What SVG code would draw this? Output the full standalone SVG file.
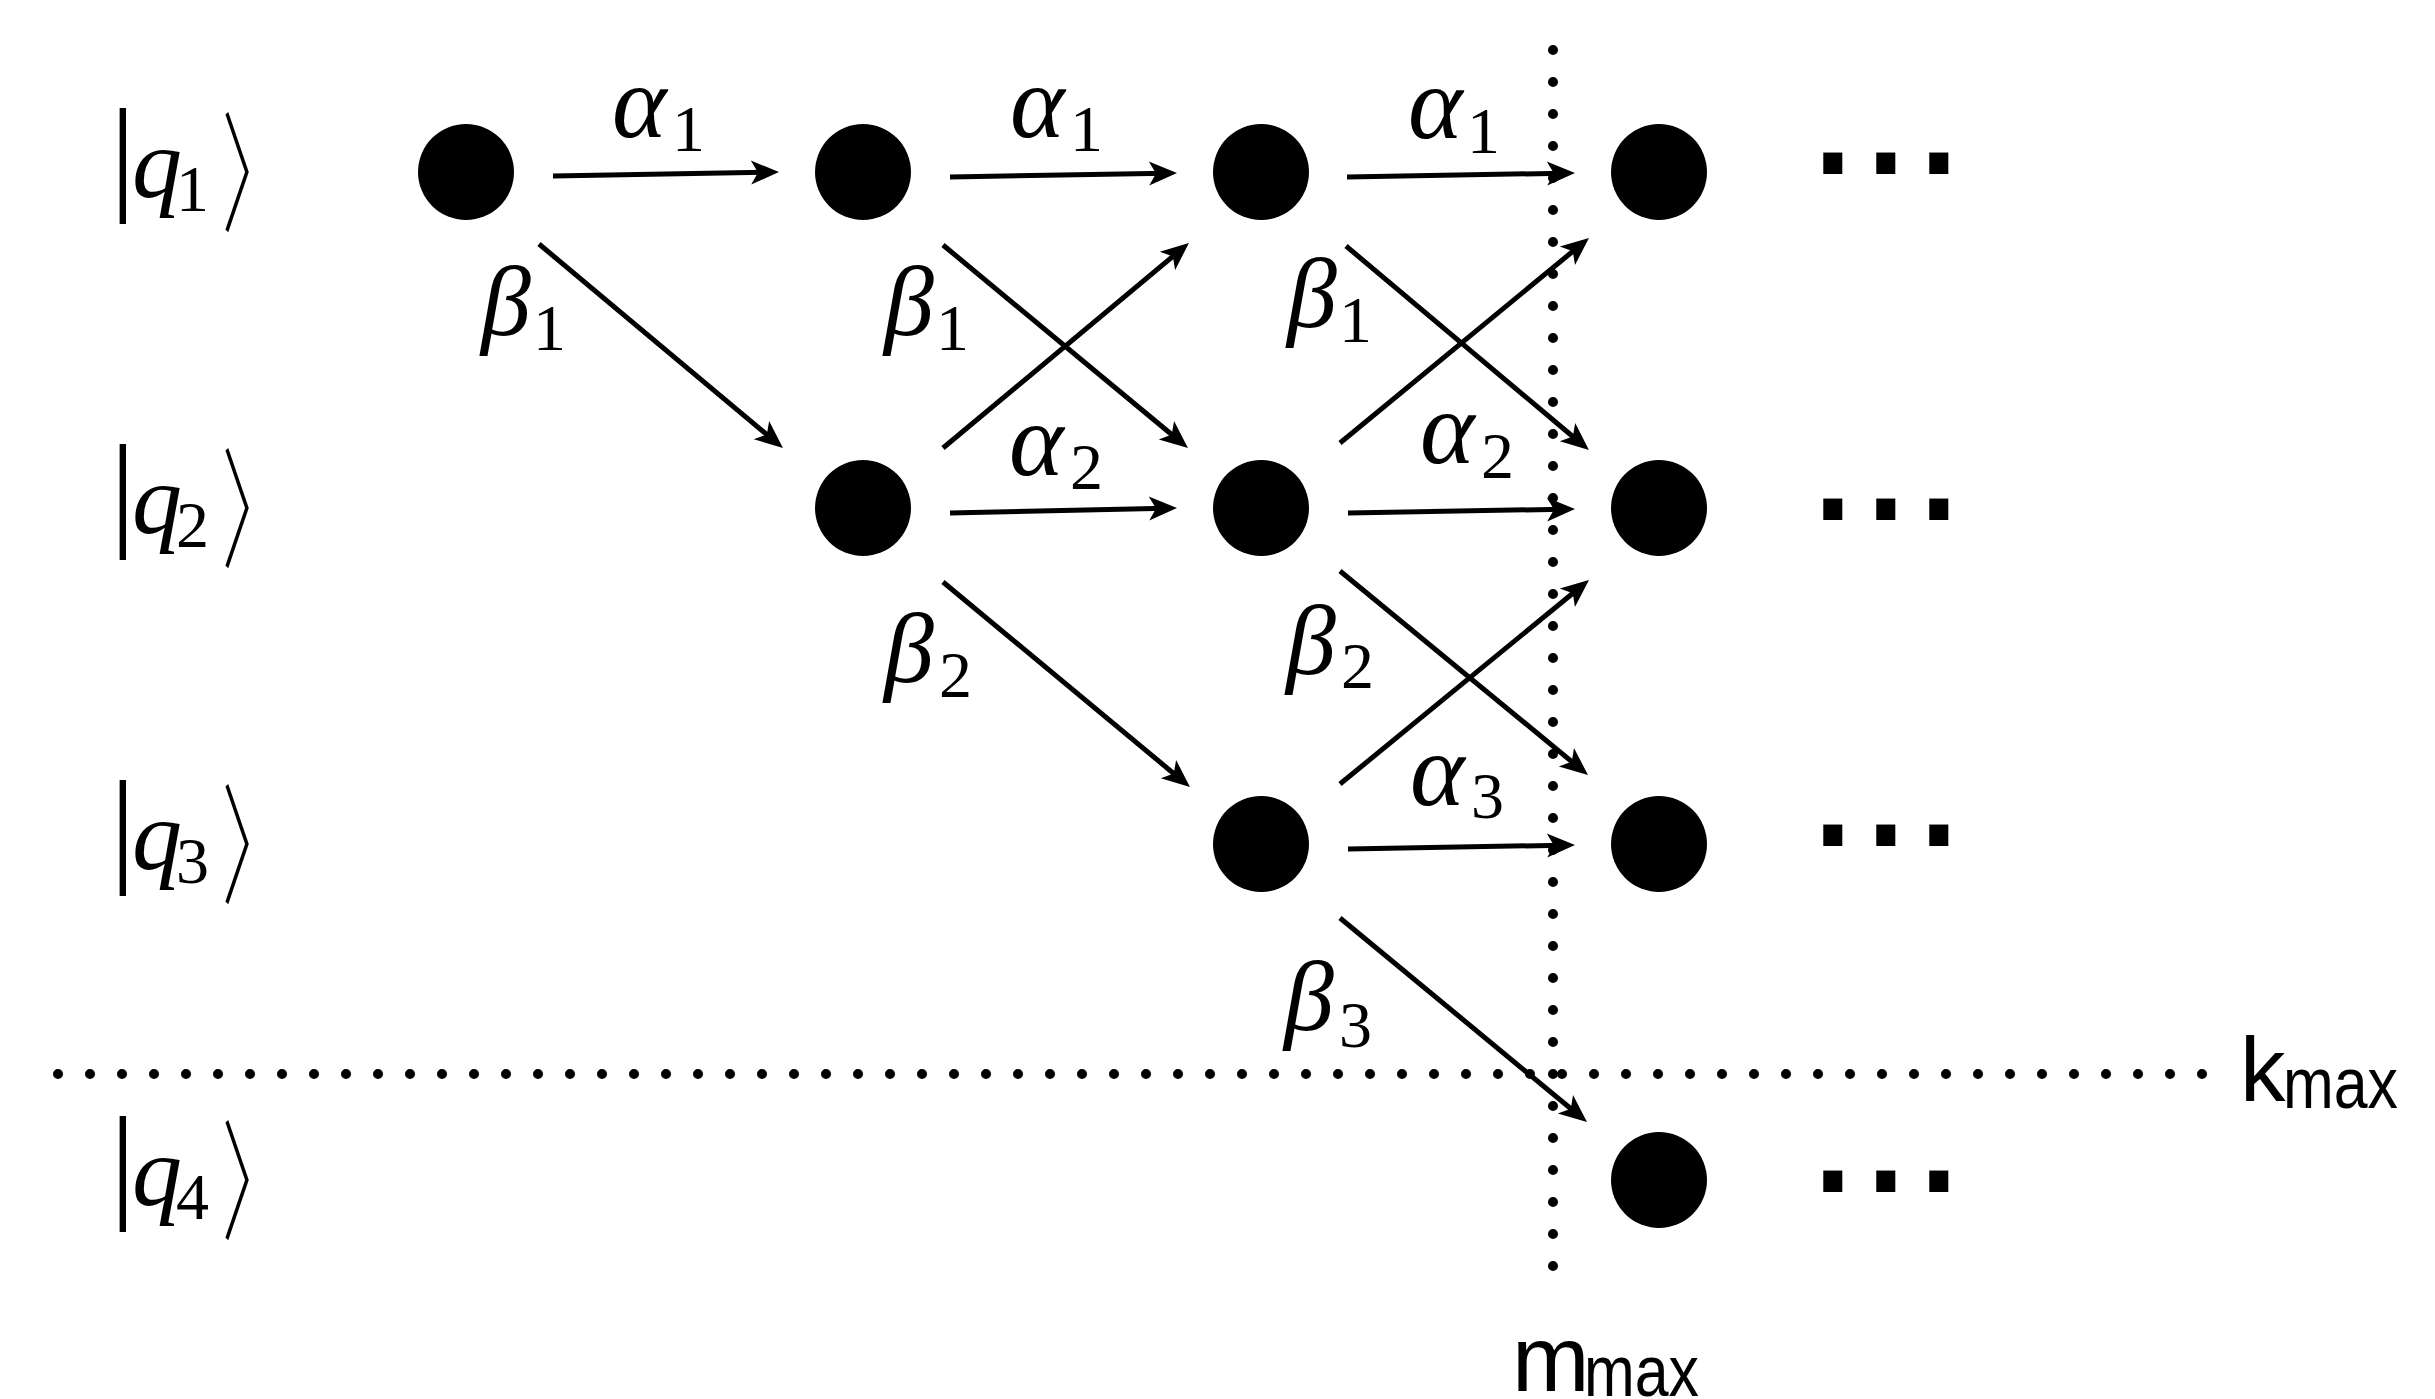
<svg xmlns="http://www.w3.org/2000/svg" width="2435" height="1399" viewBox="0 0 2435 1399">
<style>
.node{fill:#000}
.arr{stroke:#000;stroke-width:5;fill:none;marker-end:url(#ah)}
.dots{stroke:#000;stroke-width:10;stroke-dasharray:0 32;stroke-linecap:round;fill:none}
.math{font-family:"Liberation Serif","DejaVu Serif",serif;fill:#000}
.it{font-style:italic}
.br{font-family:"Noto Sans CJK JP","Noto Sans CJK SC","DejaVu Sans",sans-serif;font-weight:300;font-size:104px;fill:#000}
.sans{font-family:"Liberation Sans",Arial,sans-serif;fill:#000}
.ell{font-family:"Liberation Sans",Arial,sans-serif;font-size:200px;letter-spacing:-2.6px;fill:#000}
</style>
<defs>
<marker id="ah" markerUnits="userSpaceOnUse" viewBox="-20 -14 34 28" refX="0" refY="0" markerWidth="34" markerHeight="28" orient="auto">
<path d="M11,0 L-17,-12 L-10,0 L-17,12 Z" fill="#000"/>
</marker>
</defs>
<rect width="2435" height="1399" fill="#fff"/>

<g id="limits">
<line class="dots" x1="1553" y1="50" x2="1553" y2="1298"/>
<line class="dots" x1="58" y1="1074" x2="2234" y2="1074"/>
<text class="sans" x="2240" y="1101" font-size="91">k<tspan x="2283" y="1108" font-size="73" textLength="115" lengthAdjust="spacingAndGlyphs">max</tspan></text>
<text class="sans" x="1512" y="1391" font-size="93">m<tspan x="1584" y="1396" font-size="73" textLength="115" lengthAdjust="spacingAndGlyphs">max</tspan></text>
</g>

<g id="row-labels">
<g id="label-q1">
<text class="math" font-size="100"><tspan x="110" y="197" font-size="128">|</tspan><tspan class="it" x="132" y="197">q</tspan><tspan x="176" y="211" font-size="66">1</tspan></text>
<text class="br" transform="translate(222 220.5) scale(0.65 1.25)">〉</text>
</g>
<g id="label-q2">
<text class="math" font-size="100"><tspan x="110" y="533" font-size="128">|</tspan><tspan class="it" x="132" y="533">q</tspan><tspan x="176" y="547" font-size="66">2</tspan></text>
<text class="br" transform="translate(222 556.5) scale(0.65 1.25)">〉</text>
</g>
<g id="label-q3">
<text class="math" font-size="100"><tspan x="110" y="869" font-size="128">|</tspan><tspan class="it" x="132" y="869">q</tspan><tspan x="176" y="883" font-size="66">3</tspan></text>
<text class="br" transform="translate(222 892.5) scale(0.65 1.25)">〉</text>
</g>
<g id="label-q4">
<text class="math" font-size="100"><tspan x="110" y="1205" font-size="128">|</tspan><tspan class="it" x="132" y="1205">q</tspan><tspan x="176" y="1219" font-size="66">4</tspan></text>
<text class="br" transform="translate(222 1228.5) scale(0.65 1.25)">〉</text>
</g>
</g>

<g id="connectors">
<line class="arr" x1="553" y1="176" x2="768" y2="172.2"/>
<line class="arr" x1="950" y1="177" x2="1166" y2="173.2"/>
<line class="arr" x1="1347" y1="177" x2="1564" y2="173.2"/>
<line class="arr" x1="950" y1="513" x2="1166" y2="508.2"/>
<line class="arr" x1="1348" y1="513" x2="1564" y2="509.2"/>
<line class="arr" x1="1348" y1="849" x2="1564" y2="845.2"/>
<line class="arr" x1="539" y1="244" x2="774.5" y2="441"/>
<line class="arr" x1="943" y1="245" x2="1179.5" y2="441"/>
<line class="arr" x1="1346" y1="246" x2="1580.5" y2="443"/>
<line class="arr" x1="943" y1="582" x2="1181.5" y2="780"/>
<line class="arr" x1="1340" y1="571" x2="1579.5" y2="768"/>
<line class="arr" x1="1340" y1="918" x2="1578.5" y2="1115"/>
<line class="arr" x1="943" y1="448" x2="1180.5" y2="250"/>
<line class="arr" x1="1340" y1="443" x2="1580.5" y2="245"/>
<line class="arr" x1="1340" y1="784" x2="1580.5" y2="587"/>
</g>

<g id="edge-labels" class="math" font-size="104">
<text><tspan class="it" x="612" y="137">α</tspan><tspan x="672" y="151" font-size="66">1</tspan></text>
<text><tspan class="it" x="1010" y="137">α</tspan><tspan x="1070" y="151" font-size="66">1</tspan></text>
<text><tspan class="it" x="1408" y="138">α</tspan><tspan x="1467" y="153" font-size="66">1</tspan></text>
<text><tspan class="it" x="1009" y="475">α</tspan><tspan x="1070" y="489" font-size="66">2</tspan></text>
<text><tspan class="it" x="1420" y="463">α</tspan><tspan x="1481" y="478" font-size="66">2</tspan></text>
<text><tspan class="it" x="1410" y="805">α</tspan><tspan x="1471" y="818" font-size="66">3</tspan></text>
<text font-size="100"><tspan class="it" x="481" y="335">β</tspan><tspan x="533" y="350" font-size="66">1</tspan></text>
<text font-size="100"><tspan class="it" x="884" y="335">β</tspan><tspan x="936" y="350" font-size="66">1</tspan></text>
<text font-size="100"><tspan class="it" x="1287" y="327">β</tspan><tspan x="1339" y="342" font-size="66">1</tspan></text>
<text font-size="100"><tspan class="it" x="884" y="682">β</tspan><tspan x="939" y="697" font-size="66">2</tspan></text>
<text font-size="100"><tspan class="it" x="1286" y="674">β</tspan><tspan x="1341" y="688" font-size="66">2</tspan></text>
<text font-size="100"><tspan class="it" x="1284" y="1030">β</tspan><tspan x="1339" y="1047" font-size="66">3</tspan></text>
</g>

<g id="n-1-1"><circle class="node" cx="466" cy="172" r="48"/></g>
<g id="n-2-1"><circle class="node" cx="863" cy="172" r="48"/></g>
<g id="n-2-2"><circle class="node" cx="863" cy="508" r="48"/></g>
<g id="n-3-1"><circle class="node" cx="1261" cy="172" r="48"/></g>
<g id="n-3-2"><circle class="node" cx="1261" cy="508" r="48"/></g>
<g id="n-3-3"><circle class="node" cx="1261" cy="844" r="48"/></g>
<g id="n-4-1"><circle class="node" cx="1659" cy="172" r="48"/></g>
<g id="n-4-2"><circle class="node" cx="1659" cy="508" r="48"/></g>
<g id="n-4-3"><circle class="node" cx="1659" cy="844" r="48"/></g>
<g id="n-4-4"><circle class="node" cx="1659" cy="1180" r="48"/></g>

<g id="continuations">
<text class="ell" x="1805" y="174">...</text>
<text class="ell" x="1805" y="520">...</text>
<text class="ell" x="1805" y="846">...</text>
<text class="ell" x="1805" y="1192">...</text>
</g>
</svg>
